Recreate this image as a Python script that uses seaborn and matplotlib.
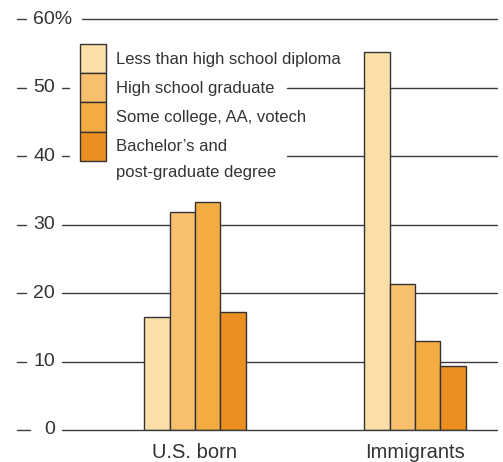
import matplotlib
matplotlib.use("Agg")
import matplotlib.pyplot as plt
import seaborn as sns
import pandas as pd

# ---- data ----
groups = ["U.S. born", "Immigrants"]
levels = ["Less than high school diploma",
          "High school graduate",
          "Some college, AA, votech",
          "Bachelor\u2019s and\npost-graduate degree"]
us_born = [16.5, 31.9, 33.3, 17.2]
immigrants = [55.2, 21.3, 13.0, 9.4]
colors = ["#FCDFA8", "#F8C06C", "#F2AC42", "#EB8F20"]
ytick_values = [0, 10, 20, 30, 40, 50, 60]
ytick_labels = ["0", "10", "20", "30", "40", "50", "60%"]

rows = []
for g, vals in zip(groups, [us_born, immigrants]):
    for lv, v in zip(levels, vals):
        rows.append({"group": g, "level": lv, "value": v})
df = pd.DataFrame(rows)

sns.set_theme(style="white")
plt.rcParams["font.family"] = ["Liberation Sans", "DejaVu Sans"]
TXT = "#333333"
LINE = "#3c3c3c"

W, H = 503, 462
fig = plt.figure(figsize=(W / 100, H / 100), dpi=100)
base_px = 430.0          # y pixel (from top) of value 0
ppu = 6.842              # pixels per unit
ytop = 61
ax = fig.add_axes([0, (H - base_px) / H, 1, ytop * ppu / H])

sns.barplot(data=df, x="group", y="value", hue="level", order=groups,
            hue_order=levels, palette=colors, saturation=1, width=0.46,
            gap=0, edgecolor="#333333", linewidth=1.0, errorbar=None,
            ax=ax, zorder=2)

handles = ax.get_legend().legend_handles
ax.get_legend().remove()

# x scale: group 0 centered at 195 px, groups 220 px apart
ax.set_xlim(-195 / 220, (W - 195) / 220)
ax.set_ylim(0, ytop)
for s in ax.spines.values():
    s.set_visible(False)
ax.set_yticks([])
ax.set_xlabel("")
ax.set_ylabel("")
ax.tick_params(axis="x", length=0, pad=9.5, labelsize=14.5, labelcolor=TXT)

def fx(px):
    return px / W

# legend vertical extent in pixels
leg_top_px, leg_bot_px = 44, 180
for v, lab in zip(ytick_values, ytick_labels):
    vpx = base_px - v * ppu
    # left small dash
    ax.axhline(v, xmin=fx(17), xmax=fx(30 if v == 0 else 26), color=LINE,
               lw=1.0, zorder=1, clip_on=False)
    if lab.endswith("%"):
        ax.text(fx(33), v, lab, transform=ax.get_yaxis_transform(),
                ha="left", va="center", fontsize=14, color=TXT)
        start = 82
    else:
        ax.text(fx(55), v, lab, transform=ax.get_yaxis_transform(),
                ha="right", va="center", fontsize=14, color=TXT)
        start = 62
    if leg_top_px < vpx < leg_bot_px:
        ax.axhline(v, xmin=fx(start), xmax=fx(69), color=LINE, lw=1.0,
                   zorder=1, clip_on=False)
        ax.axhline(v, xmin=fx(287), xmax=fx(497), color=LINE, lw=1.0,
                   zorder=1, clip_on=False)
    else:
        ax.axhline(v, xmin=fx(start), xmax=fx(497), color=LINE, lw=1.0,
                   zorder=3 if v == 0 else 1, clip_on=False)

# legend: swatches stacked, first line of each label beside swatch
first_lines = [l.split("\n")[0] for l in levels]
fs = 12
fs_px = fs * 100 / 72
sw_h = 29.2 / fs_px                    # wanted swatch height in em
hh = (sw_h - 0.245) / 0.65             # matplotlib's handleheight heuristic
leg = fig.legend(handles, first_lines, loc="upper left",
                 bbox_to_anchor=(80 / W, 1 - leg_top_px / H),
                 bbox_transform=fig.transFigure, frameon=False,
                 fontsize=fs, labelspacing=0, borderpad=0, borderaxespad=0,
                 handlelength=25.5 / fs_px, handleheight=hh,
                 handletextpad=10 / fs_px, labelcolor=TXT)
for h in leg.legend_handles:
    h.set_edgecolor("#333333")
    h.set_linewidth(1.0)
for l in levels:
    parts = l.split("\n")
    if len(parts) > 1:
        fig.text(116 / W, 1 - 172 / H, parts[1], ha="left", va="center",
                 fontsize=fs, color=TXT)

fig.savefig("out.png", dpi=100)
